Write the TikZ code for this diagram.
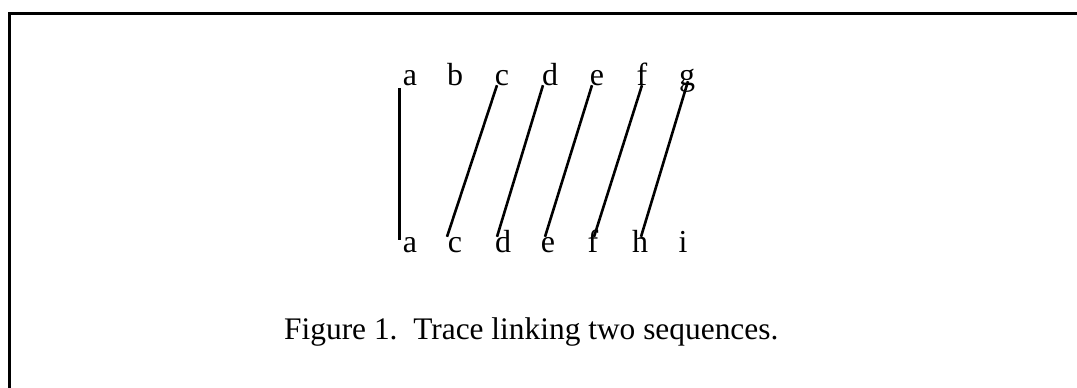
\documentclass[tikz,border=0pt]{standalone}
\usepackage{fontspec}
\setmainfont{Liberation Serif}
\begin{document}
\begin{tikzpicture}[x=1pt,y=-1pt,
  seq/.style={inner sep=0pt,anchor=base,font=\fontsize{32}{38}\selectfont,text depth=0pt},
  low/.style={seq,text height=15pt},
  link/.style={line width=2.6pt},
  frame/.style={line width=3pt}]
\useasboundingbox (0,0) rectangle (1077,388);
% frame (scanned page edges)
\draw[frame] (8,13) -- (1077,13);
\draw[frame] (9,13) -- (9,388);
% top sequence
\node[seq] (ta) at (410,85) {a};
\node[seq] (tb) at (455,85) {b};
\node[seq] (tc) at (502,85) {c};
\node[seq] (td) at (550,85) {d};
\node[seq] (te) at (597,85) {e};
\node[seq] (tf) at (642,85) {f};
\node[seq] (tg) at (687,85) {g};
% bottom sequence
\node[low] (ba) at (410,252) {a};
\node[low] (bc) at (455,252) {c};
\node[low] (bd) at (503,252) {d};
\node[low] (be) at (548,252) {e};
\node[low] (bf) at (593,252) {f};
\node[low] (bh) at (640,252) {h};
\node[low] (bi) at (683,252) {i};
% links
\draw[link] ([xshift=-3pt,yshift=-3pt]ta.south west) -- ([xshift=-3pt,yshift=-3pt]ba.north west);
\draw[link] ([xshift=-5pt]tc.south) -- ([xshift=-8pt]bc.north);
\draw[link] ([xshift=-7pt]td.south) -- ([xshift=-6pt]bd.north);
\draw[link] ([xshift=-5pt]te.south) -- ([xshift=-3pt]be.north);
\draw[link] ([xshift=0pt]tf.south) -- ([xshift=1pt]bf.north);
\draw[link] ([xshift=1pt,yshift=4pt]tg.south) -- ([xshift=1pt]bh.north);
% caption
\node[inner sep=0pt,anchor=base west,font=\fontsize{31.4}{37}\selectfont] (cap) at (284,339) {Figure 1.\ \ Trace linking two sequences.};
\end{tikzpicture}
\end{document}
